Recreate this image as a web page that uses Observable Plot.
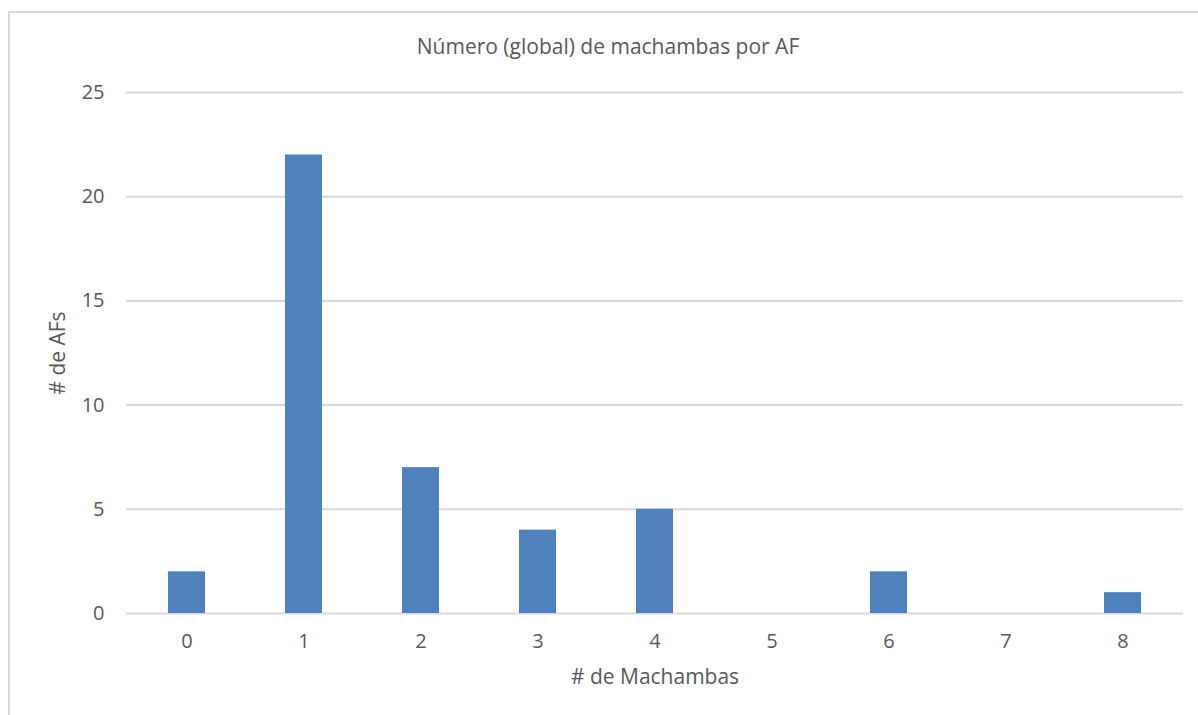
<!DOCTYPE html>
<html><head><meta charset="utf-8">
<script src="https://cdn.jsdelivr.net/npm/d3@7"></script>
<script src="https://cdn.jsdelivr.net/npm/@observablehq/plot@0.6"></script>
<style>
body{margin:0;background:#fff;overflow:hidden;}
#wrap{position:relative;width:1198px;height:715px;}
#frame{position:absolute;left:8px;top:11px;width:1250px;height:760px;border:2px solid #D9D9D9;box-sizing:border-box;}
#title{position:absolute;left:0;width:1216px;top:32px;text-align:center;font-family:"Open Sans",sans-serif;font-size:21px;color:#595959;}
#chart{position:absolute;left:0;top:0;}
</style></head>
<body><div id="wrap"><div id="frame"></div><div id="title">Número (global) de machambas por AF</div><div id="chart"></div></div>
<script>
const categories = ["0","1","2","3","4","5","6","7","8"];
const counts = [2, 22, 7, 4, 5, 0, 2, 0, 1];
const yTicks = [0, 5, 10, 15, 20, 25];
const data = categories.map((c, i) => ({cat: c, n: counts[i]}));
const font = '"Open Sans", sans-serif';
const chart = Plot.plot({
  width: 1198, height: 715,
  marginLeft: 126, marginRight: 15, marginTop: 92, marginBottom: 102,
  style: {fontFamily: font, fontSize: "20px", color: "#595959", background: "transparent"},
  x: {domain: categories, paddingInner: 0.685, paddingOuter: 0.3425, label: null},
  y: {domain: [0, 25], label: null},
  marks: [
    Plot.ruleY(yTicks, {stroke: "#D9D9D9", strokeWidth: 2}),
    Plot.barY(data, {x: "cat", y: "n", fill: "#4F81BD"}),
    Plot.axisX({tickSize: 0, tickPadding: 20, fontSize: 20, fill: "#595959", label: null}),
    Plot.axisX({tickSize: 0, text: null, ticks: [], fontSize: 21, fill: "#595959", label: "# de Machambas", labelAnchor: "center", labelOffset: 70, labelArrow: "none"}),
    Plot.axisY({ticks: yTicks, tickSize: 0, tickPadding: 22, fontSize: 20, fill: "#595959", label: null}),
    Plot.axisY({ticks: [], tickSize: 0, fontSize: 21, fill: "#595959", label: "# de AFs", labelAnchor: "center", labelOffset: 76, labelArrow: "none"})
  ]
});
document.getElementById("chart").appendChild(chart);
</script></body></html>
